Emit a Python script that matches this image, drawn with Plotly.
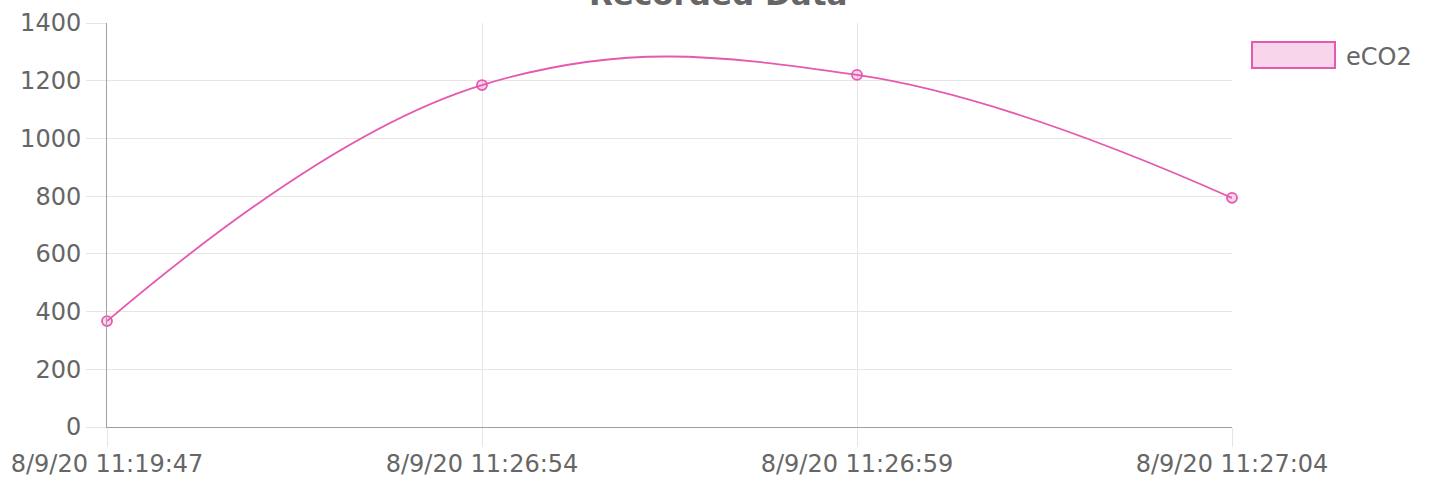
import plotly.graph_objects as go

categories = ["8/9/20 11:19:47", "8/9/20 11:26:54", "8/9/20 11:26:59", "8/9/20 11:27:04"]
eco2 = [367, 1185, 1220, 794]
y_ticks = [0, 200, 400, 600, 800, 1000, 1200, 1400]
series_name = "eCO2"
title_text = "Recorded Data"

PINK = "rgb(229,89,176)"
PINK_FILL = "rgba(229,89,176,0.25)"
TXT = "#666666"
FONT = "DejaVu Sans"

fig = go.Figure()
fig.add_trace(go.Scatter(
    x=categories, y=eco2, mode="lines+markers", name=series_name,
    line=dict(color=PINK, width=1.8, shape="spline", smoothing=1.15),
    marker=dict(size=10, color=PINK_FILL, line=dict(color=PINK, width=1.8)),
    cliponaxis=False, showlegend=False,
))

fig.update_layout(
    width=1434, height=478,
    margin=dict(l=107, r=202, t=23, b=51, autoexpand=False),
    paper_bgcolor="white", plot_bgcolor="white",
    font=dict(family=FONT, size=24, color=TXT),
    xaxis=dict(
        type="category", range=[0, 3], showgrid=True, gridcolor="#e6e6e6", gridwidth=1,
        ticks="outside", ticklen=19, tickcolor="#e6e6e6", tickwidth=1,
        ticklabelstandoff=-4,
        showline=True, linecolor="#a0a0a0", linewidth=1, automargin=False,
        tickfont=dict(family=FONT, size=24, color=TXT), zeroline=False,
    ),
    yaxis=dict(
        range=[0, 1400], tickvals=y_ticks, showgrid=True, gridcolor="#e6e6e6", gridwidth=1,
        ticks="outside", ticklen=20, tickcolor="#e6e6e6", tickwidth=1,
        showline=True, linecolor="#a0a0a0", linewidth=1, automargin=False,
        tickfont=dict(family=FONT, size=24, color=TXT), zeroline=False,
    ),
    shapes=[dict(type="rect", xref="paper", yref="paper",
                 x0=(1252 - 107) / 1125, x1=(1335 - 107) / 1125,
                 y0=(427 - 68) / 404, y1=(427 - 42) / 404,
                 line=dict(color=PINK, width=2), fillcolor=PINK_FILL)],
    annotations=[
        dict(text=series_name, xref="paper", yref="paper",
             x=(1344 - 107) / 1125, y=(427 - 57) / 404, xanchor="left", yanchor="middle",
             showarrow=False, font=dict(family=FONT, size=24, color=TXT)),
        dict(text="<b>" + title_text + "</b>", xref="paper", yref="paper",
             x=(718 - 107) / 1125, y=(427 + 6) / 404, xanchor="center", yanchor="middle",
             showarrow=False, font=dict(family=FONT, size=31, color=TXT)),
    ],
)

fig.write_html("out.html", config={"displayModeBar": False},
               post_script="document.body.style.margin='0';document.body.style.padding='0';")
